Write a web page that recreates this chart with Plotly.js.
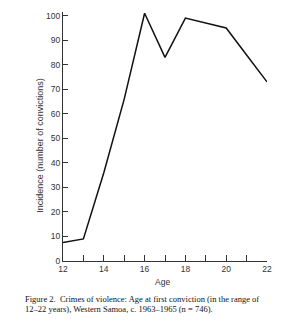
<!DOCTYPE html>
<html><head><meta charset="utf-8">
<script src="https://cdn.plot.ly/plotly-3.0.1.min.js"></script>
<style>body{margin:0;background:#fff}#c{width:300px;height:327px}</style>
</head><body><div id="c"></div>
<script>
const ages = [12, 13, 14, 15, 16, 17, 18, 19, 20, 21, 22];
const incidence = [7.5, 9, 36, 66, 101, 83, 99, 97, 95, 84, 73];
const xTickVals = [12, 13, 14, 15, 16, 17, 18, 19, 20, 21, 22];
const xTickText = ['12', '', '14', '', '16', '', '18', '', '20', '', '22'];
const yTickVals = [0, 10, 20, 30, 40, 50, 60, 70, 80, 90, 100];
const yTitle = 'Incidence (number of convictions)';
const xTitle = 'Age';
const caption1 = 'Figure 2.  Crimes of violence: Age at first conviction (in the range of';
const caption2 = '12–22 years), Western Samoa, c. 1963–1965 (n = 746).';

const gray = '#333';
const sans = 'Liberation Sans, Arial, sans-serif';
const serif = 'Liberation Serif, Times New Roman, serif';

Plotly.newPlot('c', [{
  x: ages, y: incidence, type: 'scatter', mode: 'lines',
  line: {color: '#111', width: 1.5}, hoverinfo: 'skip'
}], {
  width: 300, height: 327,
  margin: {l: 63, r: 33, t: 11.5, b: 66.3},
  paper_bgcolor: '#fff', plot_bgcolor: '#fff',
  showlegend: false,
  xaxis: {range: [12, 22], tickvals: xTickVals, ticktext: xTickText,
    ticks: 'inside', ticklen: 6, tickcolor: gray, tickwidth: 1,
    showline: true, linecolor: gray, linewidth: 1, showgrid: false, zeroline: false,
    ticklabelstandoff: 0,
    tickfont: {family: sans, size: 8.5, color: gray}, fixedrange: true},
  yaxis: {range: [0, 101.5], tickvals: yTickVals,
    ticks: 'inside', ticklen: 5, tickcolor: gray, tickwidth: 1,
    showline: true, linecolor: gray, linewidth: 1, showgrid: false, zeroline: false,
    tickfont: {family: sans, size: 8.5, color: gray}, fixedrange: true},
  annotations: [
    {text: yTitle, xref: 'paper', yref: 'paper', x: -0.11, y: 0.465, xanchor: 'center', yanchor: 'middle',
     textangle: -90, showarrow: false, font: {family: sans, size: 9, color: gray}},
    {text: xTitle, xref: 'paper', yref: 'paper', x: 0.49, y: -0.055, xanchor: 'center', yanchor: 'top',
     showarrow: false, font: {family: sans, size: 8.5, color: gray}},
    {text: caption1, xref: 'paper', yref: 'paper', x: -0.195, y: -0.123, xanchor: 'left', yanchor: 'top',
     showarrow: false, font: {family: serif, size: 8.5, color: '#111'}},
    {text: caption2, xref: 'paper', yref: 'paper', x: -0.195, y: -0.166, xanchor: 'left', yanchor: 'top',
     showarrow: false, font: {family: serif, size: 8.5, color: '#111'}}
  ]
}, {staticPlot: true});
</script></body></html>
